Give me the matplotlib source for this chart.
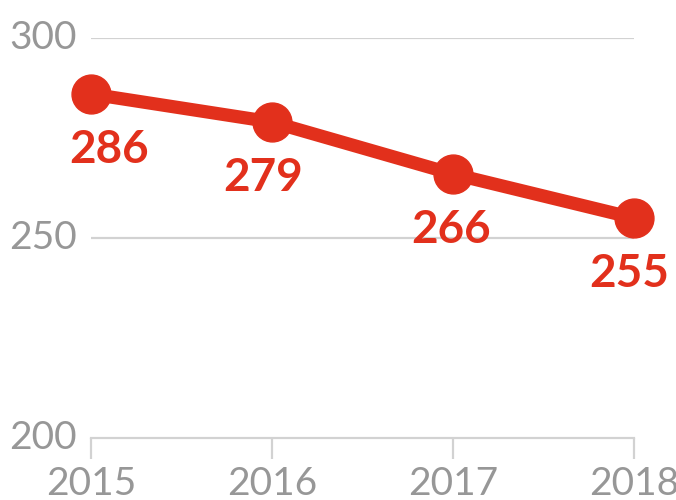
import matplotlib.pyplot as plt

years = [2015, 2016, 2017, 2018]
values = [286, 279, 266, 255]
y_ticks = [200, 250, 300]

red = "#e2301c"
grey_text = "#979797"
grey_line = "#d2d2d2"

fig = plt.figure(figsize=(6.76, 5.0), dpi=100)
ax = fig.add_axes([91 / 676, 62 / 500, 543 / 676, 400 / 500])

ax.plot(years, values, color=red, lw=9.5, marker="o", ms=28,
        solid_capstyle="round", clip_on=False, zorder=3)

# value labels under each point
label_dx = [18, -9, -2, -5]
for x, v, dx in zip(years, values, label_dx):
    ax.annotate(str(v), (x, v), xytext=(dx * 0.72, -40), textcoords="offset points",
                ha="center", va="center", color=red, fontsize=33,
                fontweight="bold", family="Lato", zorder=4)

ax.set_xlim(2015, 2018)
ax.set_ylim(200, 300)
ax.set_xticks(years)
ax.set_yticks(y_ticks)

for y in y_ticks[1:]:
    ax.axhline(y, color=grey_line, lw=1.6, zorder=1)

for s in ["top", "right", "left"]:
    ax.spines[s].set_visible(False)
ax.spines["bottom"].set_color(grey_line)
ax.spines["bottom"].set_linewidth(1.6)

ax.tick_params(axis="x", length=15, width=1.6, color=grey_line, pad=5,
               labelsize=28, labelcolor=grey_text)
ax.tick_params(axis="y", length=0, pad=10, labelsize=28, labelcolor=grey_text)
for lab in ax.get_xticklabels() + ax.get_yticklabels():
    lab.set_family("Lato")
    lab.set_fontweight("normal")
for lab in ax.get_yticklabels():
    lab.set_va("center")

fig.savefig("out.png", dpi=100, facecolor="white")
